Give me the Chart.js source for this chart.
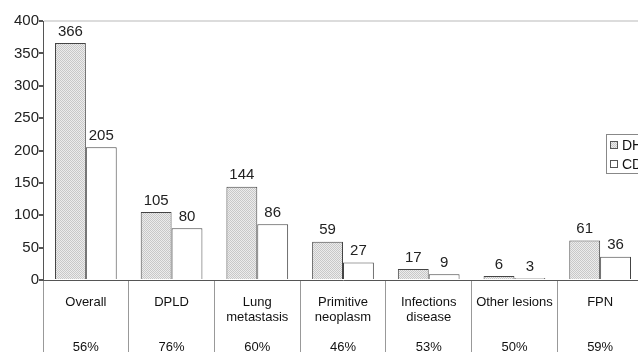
<!DOCTYPE html>
<html lang="en">
<head>
  <meta charset="UTF-8">
  <title>DH vs CD</title>
  <script src="https://cdn.jsdelivr.net/npm/chart.js"></script>
  <style>
    html, body { margin: 0; padding: 0; background: #fff; overflow: hidden; }
    .grafico { position: relative; width: 643px; height: 352px; }
  </style>
</head>
<body>
  <div class="grafico">
    <canvas id="myChart" width="643" height="352"></canvas>
  </div>

<script>
  // dados do grafico
  var categorias = [
    ['Overall', '', '', '56%'],
    ['DPLD', '', '', '76%'],
    ['Lung', 'metastasis', '', '60%'],
    ['Primitive', 'neoplasm', '', '46%'],
    ['Infections', 'disease', '', '53%'],
    ['Other lesions', '', '', '50%'],
    ['FPN', '', '', '59%']
  ];
  var valoresDH = [366, 105, 144, 59, 17, 6, 61];
  var valoresCD = [205, 80, 86, 27, 9, 3, 36];
  var nomesSeries = ['DH', 'CD'];
  var ticksY = [0, 50, 100, 150, 200, 250, 300, 350, 400];

  var fonte = "Arial, 'Liberation Sans', sans-serif";

  // textura pontilhada das barras cinzas
  function criarPadrao() {
    var c = document.createElement('canvas');
    c.width = 2; c.height = 2;
    var g = c.getContext('2d');
    g.fillStyle = '#ececec';
    g.fillRect(0, 0, 2, 2);
    g.fillStyle = '#c8c8c8';
    g.fillRect(0, 0, 1, 1);
    g.fillRect(1, 1, 1, 1);
    return g.createPattern(c, 'repeat');
  }
  var padrao = criarPadrao();

  // valores em cima das barras
  const rotulosBarras = {
    id: 'rotulosBarras',
    afterDatasetsDraw(chart) {
      const ctx = chart.ctx;
      ctx.save();
      ctx.font = '15px ' + fonte;
      ctx.fillStyle = '#222';
      ctx.textAlign = 'center';
      ctx.textBaseline = 'bottom';
      chart.data.datasets.forEach(function (ds, i) {
        chart.getDatasetMeta(i).data.forEach(function (bar, j) {
          ctx.fillText(ds.data[j], bar.x, bar.y - 4);
        });
      });
      ctx.restore();
    }
  };

  // legenda dentro da area (cortada na direita)
  const legendaCaixa = {
    id: 'legendaCaixa',
    afterDraw(chart) {
      const ctx = chart.ctx;
      const a = chart.chartArea;
      const x = a.right - 37, y = a.top + 113;
      ctx.save();
      ctx.fillStyle = '#fff';
      ctx.fillRect(x, y, 60, 39);
      ctx.strokeStyle = '#888';
      ctx.lineWidth = 1;
      ctx.strokeRect(x + 0.5, y + 0.5, 60, 39);
      ctx.font = '14px ' + fonte;
      ctx.textBaseline = 'middle';
      chart.data.datasets.forEach(function (ds, i) {
        const yy = y + 11 + i * 19;
        ctx.fillStyle = ds.backgroundColor;
        ctx.fillRect(x + 4.5, yy - 3.5, 7, 7);
        ctx.strokeStyle = '#555';
        ctx.strokeRect(x + 4.5, yy - 3.5, 7, 7);
        ctx.fillStyle = '#111';
        ctx.fillText(ds.label, x + 16, yy + 1);
      });
      ctx.restore();
    }
  };

  const dados = {
    labels: categorias,
    datasets: [{
      label: nomesSeries[0],
      data: valoresDH,
      backgroundColor: padrao,
      borderColor: '#444',
      borderWidth: 1
    }, {
      label: nomesSeries[1],
      data: valoresCD,
      backgroundColor: '#ffffff',
      borderColor: '#444',
      borderWidth: 1
    }]
  };

  const config = {
    type: 'bar',
    data: dados,
    options: {
      responsive: false,
      animation: false,
      layout: { padding: { top: 21, left: 0, right: 0, bottom: 0 } },
      datasets: {
        bar: { barPercentage: 1, categoryPercentage: 0.72 }
      },
      plugins: {
        legend: { display: false },
        tooltip: { enabled: false }
      },
      scales: {
        x: {
          afterFit: function (s) { s.height = 72; },
          border: { color: '#555', width: 1 },
          grid: {
            offset: true,
            drawOnChartArea: false,
            drawTicks: true,
            tickLength: 72,
            tickColor: '#999'
          },
          ticks: {
            padding: -57,
            maxRotation: 0,
            autoSkip: false,
            color: '#111',
            font: { family: fonte, size: 13, lineHeight: 1.15 }
          }
        },
        y: {
          min: 0,
          max: 400,
          afterFit: function (s) { s.width = 43; },
          afterBuildTicks: function (s) { s.ticks = ticksY.map(function (v) { return { value: v }; }); },
          border: { color: '#555', width: 1 },
          grid: {
            color: function (c) { return c.tick && c.tick.value === 400 ? '#dcdcdc' : 'rgba(0,0,0,0)'; },
            lineWidth: 2,
            tickColor: '#555',
            tickLength: 4,
            drawTicks: true
          },
          ticks: {
            padding: 0,
            color: '#222',
            font: { family: fonte, size: 15 }
          }
        }
      }
    },
    plugins: [rotulosBarras, legendaCaixa]
  };

  let myChart = new Chart(document.getElementById('myChart'), config);
</script>
</body>
</html>
